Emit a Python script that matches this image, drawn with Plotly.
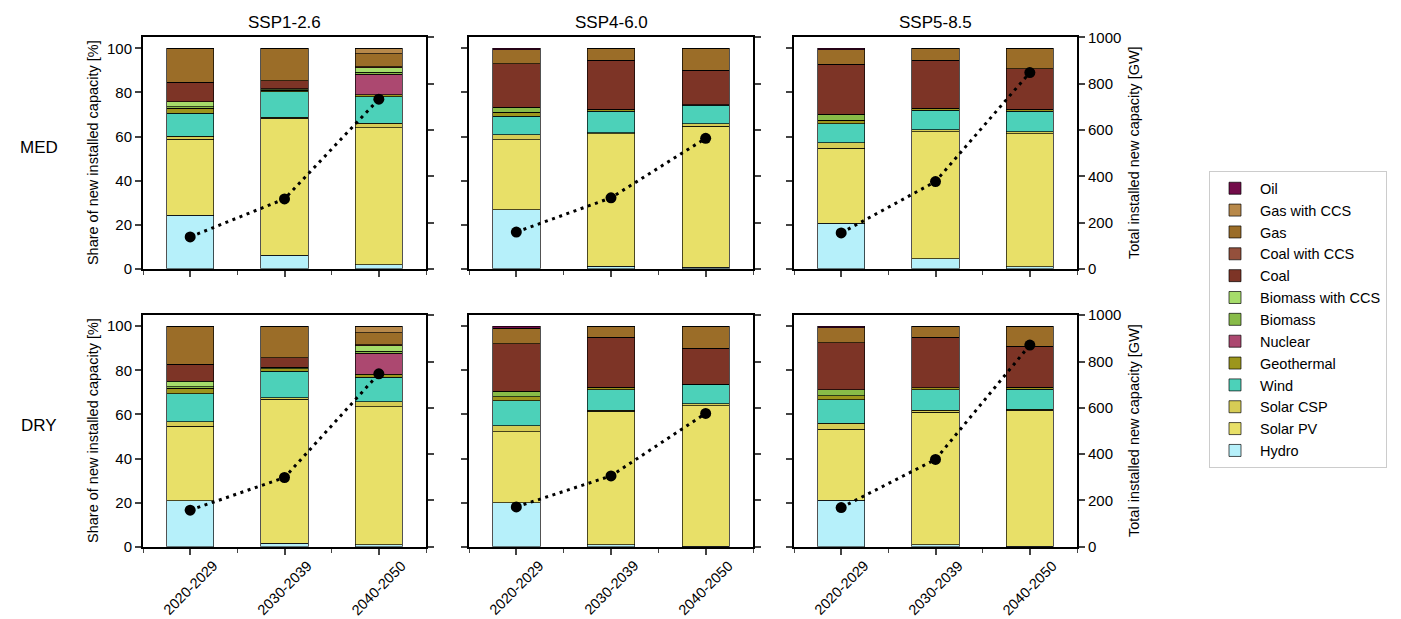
import plotly.graph_objects as go

W, H = 1401, 619
# empirical page-to-figure mapping (page offset / vertical scaling of the screenshot)
X_OFF = 7
Y_OFF = 13.5
Y_SCALE = 0.98

periods = ["2020-2029", "2030-2039", "2040-2050"]
scenarios = ["SSP1-2.6", "SSP4-6.0", "SSP5-8.5"]
regimes = ["MED", "DRY"]

# Values per panel order: MED-SSP1, MED-SSP4, MED-SSP5, DRY-SSP1, DRY-SSP4, DRY-SSP5 (3 periods each), share in %
hydro = [24.4, 6.1, 1.8, 26.7, 1.3, 0.7, 20.7, 4.6, 1.0,
         20.8, 1.5, 1.0, 19.9, 0.9, 0.3, 21.1, 0.9, 0.3]
solar_pv = [34.4, 62.3, 62.1, 31.8, 59.9, 63.9, 33.9, 57.5, 60.3,
            33.8, 65.5, 62.4, 32.3, 60.6, 63.6, 32.1, 60.0, 61.5]
solar_csp = [1.3, 0.3, 2.2, 2.4, 0.6, 1.2, 2.5, 0.9, 0.8,
             2.1, 0.5, 2.4, 2.7, 0.4, 1.0, 2.7, 0.9, 0.6]
wind = [10.5, 11.7, 12.0, 8.4, 9.7, 8.3, 8.7, 9.0, 9.4,
        12.6, 12.1, 11.0, 11.2, 9.2, 8.6, 10.7, 9.3, 9.1]
geothermal = [2.3, 0.6, 0.9, 1.8, 0.9, 0.3, 1.7, 0.9, 0.9,
              2.5, 1.1, 1.5, 2.0, 1.3, 0.3, 1.9, 0.9, 0.9]
nuclear = [0, 0, 9.2, 0, 0, 0, 0, 0, 0,
           0, 0, 9.4, 0, 0, 0, 0, 0, 0]
biomass = [0.6, 0.3, 0.9, 2.1, 0, 0, 2.7, 0, 0,
           0.8, 0.6, 0.9, 2.4, 0, 0, 2.6, 0, 0]
biomass_ccs = [2.4, 0.3, 2.2, 0, 0, 0, 0, 0, 0,
               2.5, 0, 2.6, 0, 0, 0, 0, 0, 0]
coal = [8.7, 3.7, 0.3, 19.9, 22.2, 15.7, 22.5, 21.7, 18.3,
        7.7, 4.3, 0.3, 21.6, 22.7, 16.3, 21.3, 23.1, 18.6]
coal_ccs = [0, 0, 0, 0, 0, 0, 0, 0, 0,
            0, 0, 0, 0, 0, 0, 0, 0, 0]
gas = [15.4, 14.7, 5.9, 6.2, 5.4, 9.9, 6.6, 5.4, 9.3,
       17.2, 14.4, 5.5, 7.0, 4.9, 9.9, 6.9, 4.9, 9.0]
gas_ccs = [0, 0, 2.5, 0, 0, 0, 0, 0, 0,
           0, 0, 3.0, 0, 0, 0, 0, 0, 0]
oil = [0, 0, 0, 0.7, 0, 0, 0.7, 0, 0,
       0, 0, 0, 0.9, 0, 0, 0.7, 0, 0]

# Total installed new capacity [GW]
total_gw = [138, 302, 733, 159, 307, 564, 155, 377, 848,
            158, 299, 747, 172, 306, 576, 169, 377, 871]

tech_names = ["Hydro", "Solar PV", "Solar CSP", "Wind", "Geothermal", "Nuclear",
              "Biomass", "Biomass with CCS", "Coal", "Coal with CCS", "Gas",
              "Gas with CCS", "Oil"]
tech_values = [hydro, solar_pv, solar_csp, wind, geothermal, nuclear, biomass,
               biomass_ccs, coal, coal_ccs, gas, gas_ccs, oil]
tech_colors = ["#b6f0fa", "#e8e068", "#d6cc55", "#4cd1b9", "#9c961c", "#ac4870",
               "#88bb48", "#a6dc6a", "#7d3426", "#94503c", "#9b6d28", "#b8894a",
               "#730c4a"]

FONT = "Liberation Sans, Arial, Helvetica, sans-serif"


def px(x):
    return (x - X_OFF) / W


def py(y):
    return 1 - ((y - Y_OFF) / Y_SCALE) / H


# panel geometry in page pixels
col_x = [(142, 425), (468, 752), (793, 1076)]
row_y = [(34, 267.3), (314, 547.3)]

fig = go.Figure()
layout = dict(
    width=W, height=H, margin=dict(l=0, r=0, t=0, b=0),
    paper_bgcolor="white", plot_bgcolor="white",
    barmode="stack", bargap=0.5,
    font=dict(family=FONT, size=15, color="black"),
    showlegend=True,
    legend=dict(x=px(1208), y=py(169), xanchor="left", yanchor="top",
                traceorder="reversed", bordercolor="#cccccc", borderwidth=1,
                itemwidth=40,
                font=dict(size=14.5, family=FONT), bgcolor="white"),
)

annotations = []
xpos = [0, 1, 2]
for r in range(2):
    for c in range(3):
        p = r * 3 + c
        i = p + 1
        xa = "x" if i == 1 else f"x{i}"
        ya = "y" if i == 1 else f"y{i}"
        ya2 = f"y{6 + i}"
        sl = slice(p * 3, p * 3 + 3)
        for name, vals, col in zip(tech_names, tech_values, tech_colors):
            fig.add_trace(go.Bar(
                x=xpos, y=vals[sl], name=name, width=0.5,
                marker=dict(color=col, line=dict(color="rgba(0,0,0,0.85)", width=0.8)),
                xaxis=xa, yaxis=ya, legendgroup=name, showlegend=(p == 0),
                hovertemplate=name + ": %{y}%<extra></extra>"))
        fig.add_trace(go.Scatter(
            x=xpos, y=total_gw[sl], mode="lines+markers",
            line=dict(color="black", width=3, dash="3px,4.6px"),
            marker=dict(color="black", size=11),
            xaxis=xa, yaxis=ya2, showlegend=False))

        x0, x1 = col_x[c]
        y0, y1 = row_y[r]
        xdom = [px(x0), px(x1)]
        ydom = [py(y1), py(y0)]
        xkey = "xaxis" if i == 1 else f"xaxis{i}"
        ykey = "yaxis" if i == 1 else f"yaxis{i}"
        layout[xkey] = dict(
            domain=xdom, anchor=ya, range=[-0.5, 2.5], type="linear",
            tickvals=xpos, ticktext=periods, showticklabels=False,
            ticks="outside", ticklen=6, tickwidth=1.5,
            minor=dict(tickvals=[-0.5, 0.5, 1.5, 2.5], ticks="outside", ticklen=4, tickwidth=1.2),
            showline=True, linecolor="black", linewidth=2, mirror=True,
            showgrid=False, zeroline=False, tickfont=dict(size=15))
        layout[ykey] = dict(
            domain=ydom, anchor=xa, range=[0, 105],
            tickvals=[0, 20, 40, 60, 80, 100], showticklabels=(c == 0),
            ticks="outside", ticklen=6, tickwidth=1.5,
            showline=True, linecolor="black", linewidth=2,
            showgrid=False, zeroline=False, tickfont=dict(size=15))
        layout[f"yaxis{6 + i}"] = dict(
            overlaying=ya, side="right", anchor=xa, range=[0, 1000],
            tickvals=[0, 200, 400, 600, 800, 1000], showticklabels=(c == 2),
            ticks="outside", ticklen=6, tickwidth=1.5,
            showline=True, linecolor="black", linewidth=2,
            showgrid=False, zeroline=False, tickfont=dict(size=15))
        if r == 1:
            # rotated period labels centred under their ticks (placed on the x axis scale)
            for k, lab in zip(xpos, periods):
                annotations.append(dict(text=lab, x=k, xref=xa, y=py(589), yref="paper",
                                        showarrow=False, textangle=-45, font=dict(size=14.5),
                                        xanchor="center", yanchor="middle"))

for c, s in enumerate(scenarios):
    x0, x1 = col_x[c]
    annotations.append(dict(text=s, x=px((x0 + x1) / 2), y=py(19), xref="paper", yref="paper",
                            showarrow=False, font=dict(size=17), xanchor="center", yanchor="middle"))
for r, lab in enumerate(regimes):
    y0, y1 = row_y[r]
    yc = (y0 + y1) / 2
    annotations.append(dict(text=lab, x=px(38), y=py(yc - 6), xref="paper", yref="paper",
                            showarrow=False, font=dict(size=17), xanchor="center", yanchor="middle"))
    annotations.append(dict(text="Share of new installed capacity [%]", x=px(92), y=py(yc),
                            xref="paper", yref="paper", showarrow=False, textangle=-90,
                            font=dict(size=14.5), xanchor="center", yanchor="middle"))
    annotations.append(dict(text="Total installed new capacity [GW]", x=px(1133), y=py(yc),
                            xref="paper", yref="paper", showarrow=False, textangle=-90,
                            font=dict(size=14.5), xanchor="center", yanchor="middle"))
layout["annotations"] = annotations

fig.update_layout(**layout)
fig.write_html("out.html")
